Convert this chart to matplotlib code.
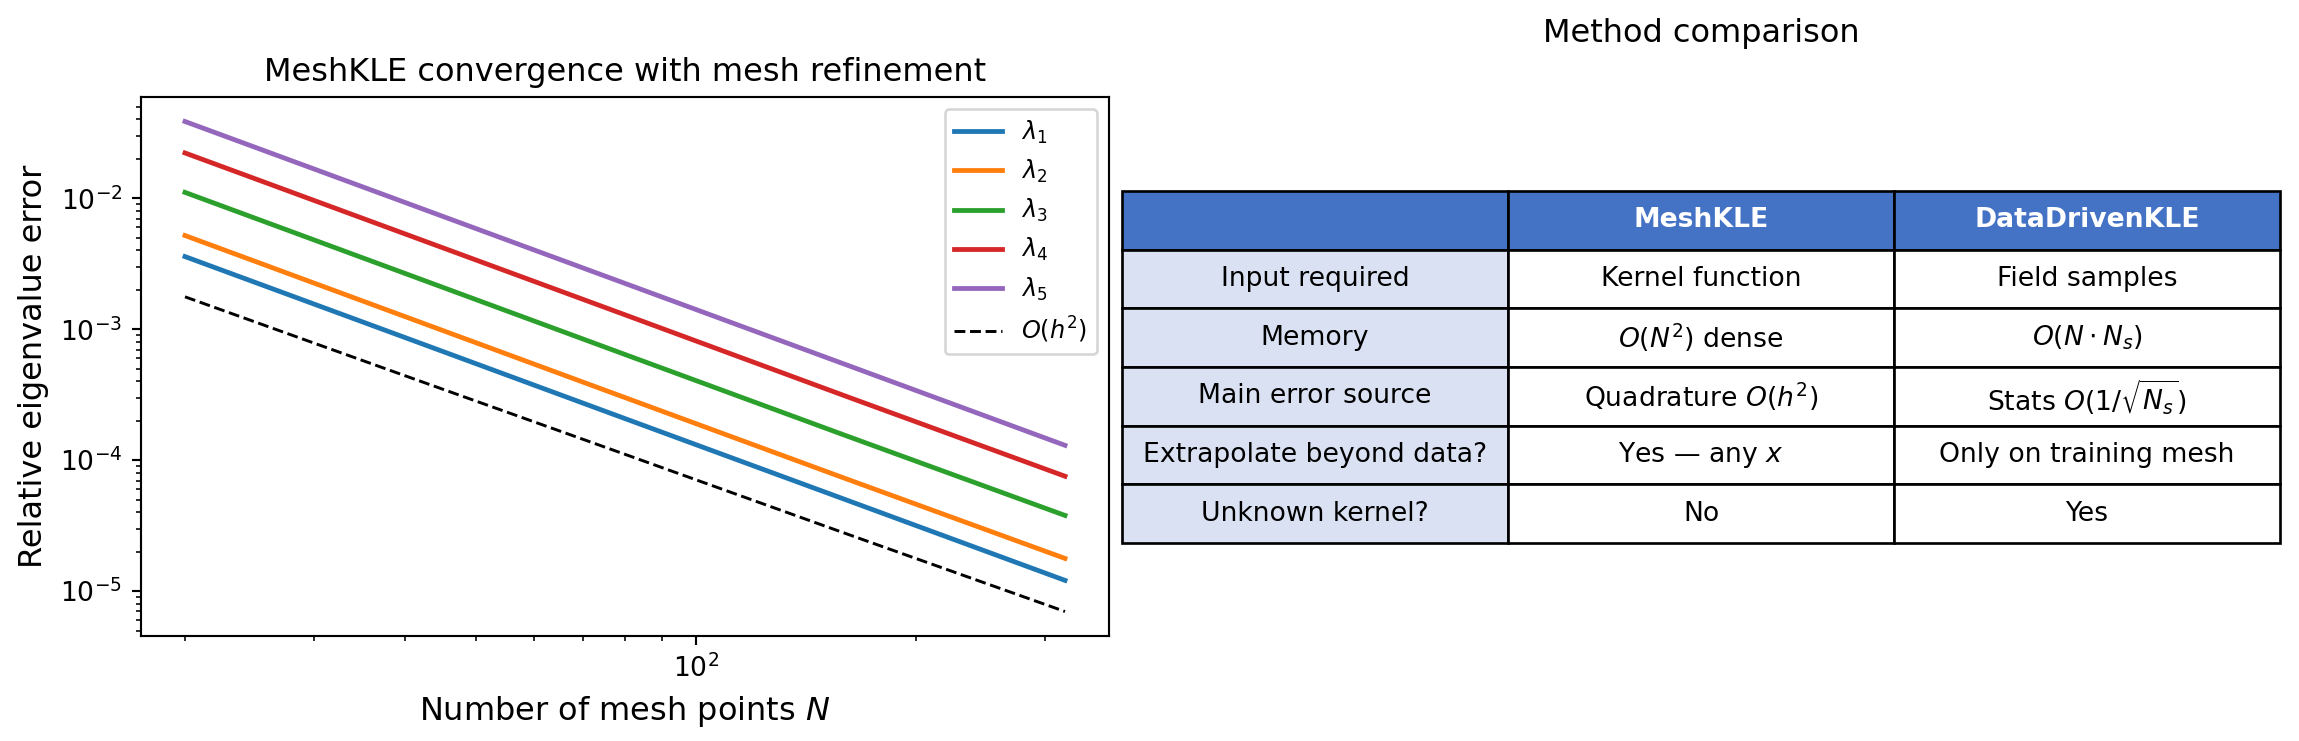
import matplotlib
matplotlib.use("Agg")
import matplotlib.pyplot as plt

# ---- data ----
N = [20, 40, 80, 160, 320]
lam1 = [3.59e-3, 8.65e-4, 2.08e-4, 5.02e-5, 1.21e-5]
lam2 = [5.20e-3, 1.25e-3, 3.01e-4, 7.27e-5, 1.78e-5]
lam3 = [1.11e-2, 2.67e-3, 6.42e-4, 1.55e-4, 3.79e-5]
lam4 = [2.22e-2, 5.35e-3, 1.29e-3, 3.10e-4, 7.55e-5]
lam5 = [3.86e-2, 9.30e-3, 2.24e-3, 5.40e-4, 1.30e-4]
ref_h2 = [1.77e-3, 4.42e-4, 1.11e-4, 2.77e-5, 7.00e-6]
series = [lam1, lam2, lam3, lam4, lam5]
series_labels = [r"$\lambda_1$", r"$\lambda_2$", r"$\lambda_3$", r"$\lambda_4$", r"$\lambda_5$"]

col_labels = ["", "MeshKLE", "DataDrivenKLE"]
row_names = ["Input required", "Memory", "Main error source",
             "Extrapolate beyond data?", "Unknown kernel?"]
mesh_col = ["Kernel function", r"$O(N^2)$ dense", r"Quadrature $O(h^2)$",
            r"Yes — any $x$", "No"]
data_col = ["Field samples", r"$O(N \cdot N_s)$", r"Stats $O(1/\sqrt{N_s})$",
            "Only on training mesh", "Yes"]

W, H = 2299, 741
dpi = 192
fig = plt.figure(figsize=(W / dpi, H / dpi), dpi=dpi)

# ---- left: convergence plot ----
ax = fig.add_axes([141 / W, 1 - 636 / H, (1109 - 141) / W, (636 - 97) / H])
for vals, lab in zip(series, series_labels):
    ax.loglog(N, vals, lw=1.8, label=lab)
ax.loglog(N, ref_h2, "k--", lw=1.1, label=r"$O(h^2)$")
ax.set_xlabel(r"Number of mesh points $N$", fontsize=12)
ax.set_ylabel("Relative eigenvalue error", fontsize=12)
ax.set_title("MeshKLE convergence with mesh refinement", fontsize=12)
ax.legend(loc="upper right", fontsize=9)

# ---- right: table ----
ax2 = fig.add_axes([1122 / W, 1 - 636 / H, (2280 - 1122) / W, (636 - 58) / H])
ax2.axis("off")
ax2.set_title("Method comparison", fontsize=12)
cell_text = [[r, m, d] for r, m, d in zip(row_names, mesh_col, data_col)]
tb = ax2.table(cellText=cell_text, colLabels=col_labels, cellLoc="center",
               bbox=[0, (636 - 543) / 578, 1, (543 - 191) / 578])
tb.auto_set_font_size(False)
tb.set_fontsize(10)
for (r, c), cell in tb.get_celld().items():
    cell.set_edgecolor("black")
    cell.set_linewidth(1.0)
    if r == 0:
        cell.set_facecolor("#4472C4")
        cell.get_text().set_color("white")
        cell.get_text().set_fontweight("bold")
    elif c == 0:
        cell.set_facecolor("#D9E1F2")
    else:
        cell.set_facecolor("white")

fig.savefig("out.png", dpi=dpi)
